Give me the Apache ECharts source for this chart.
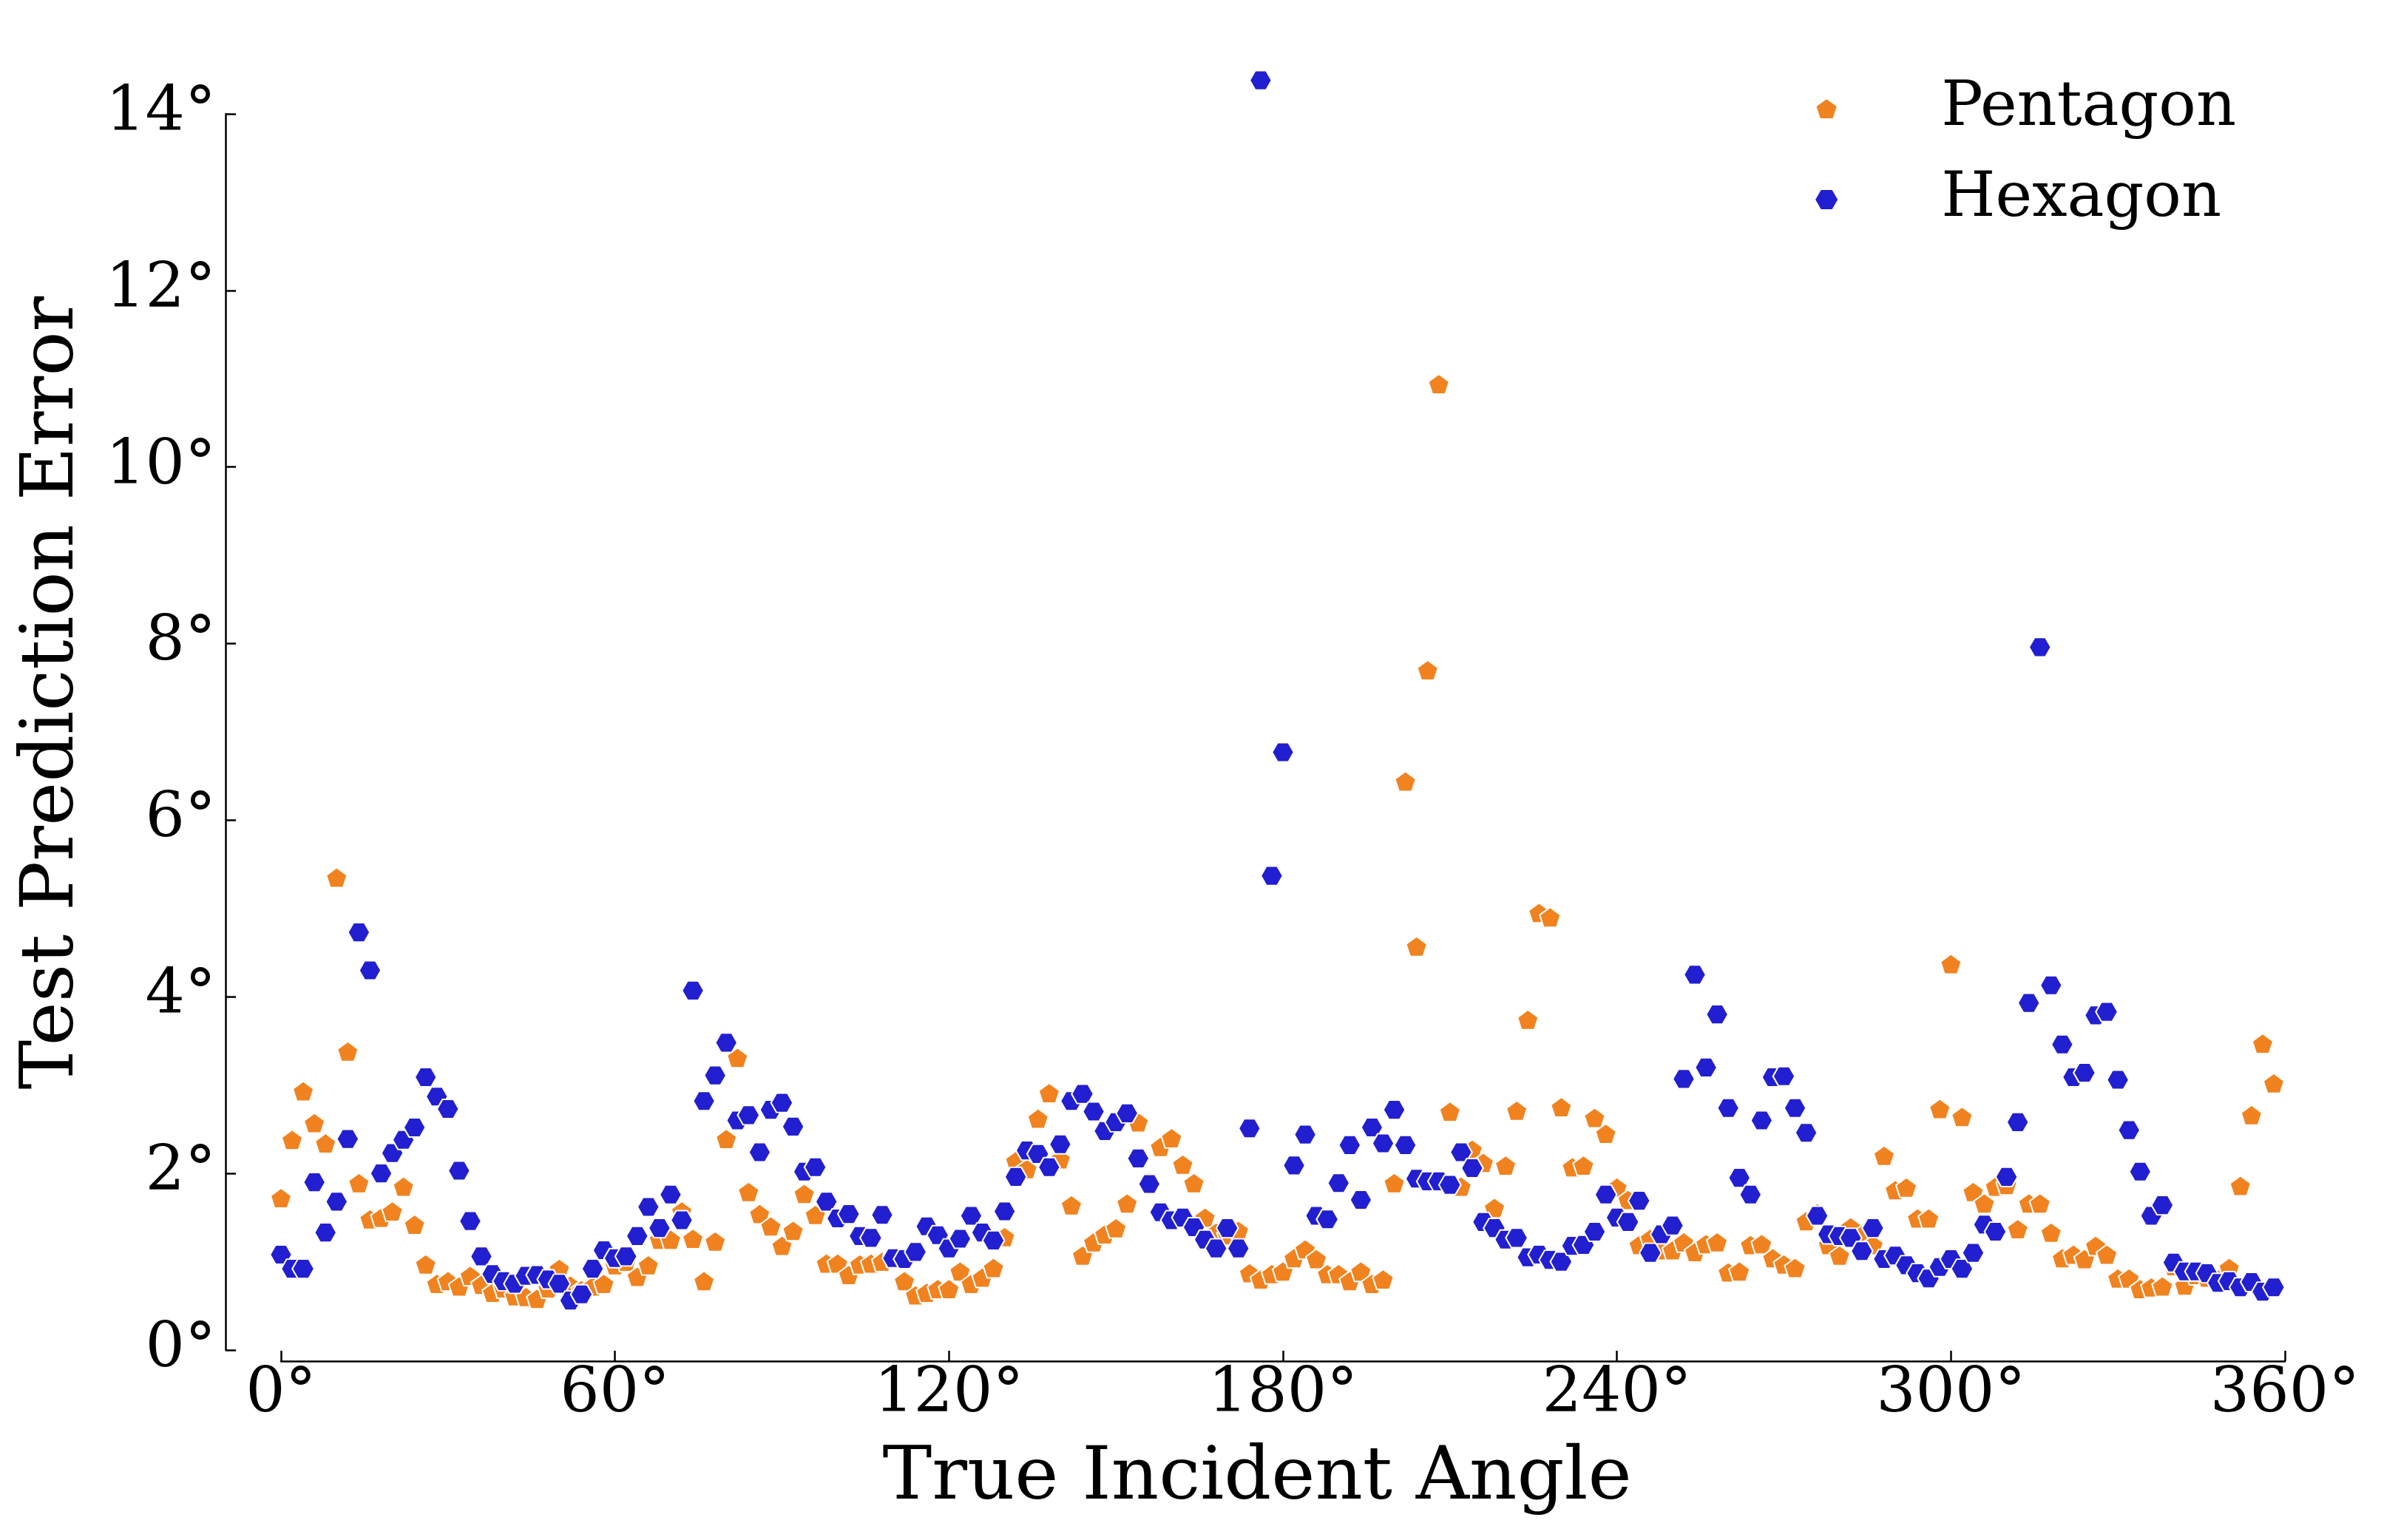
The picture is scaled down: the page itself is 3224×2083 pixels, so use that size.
<!DOCTYPE html>
<html><head><meta charset="utf-8">
<script src="https://cdn.jsdelivr.net/npm/echarts@6/dist/echarts.min.js"></script>
<style>html,body{margin:0;padding:0;background:#fff}#c{width:3224px;height:2083px}</style>
</head><body><div id="c"></div>
<script>
const angles = [0,2,4,6,8,10,12,14,16,18,20,22,24,26,28,30,32,34,36,38,40,42,44,46,48,50,52,54,56,58,
60,62,64,66,68,70,72,74,76,78,80,82,84,86,88,90,92,94,96,98,100,102,104,106,108,110,112,114,116,118,
120,122,124,126,128,130,132,134,136,138,140,142,144,146,148,150,152,154,156,158,160,162,164,166,168,170,172,174,176,178,
180,182,184,186,188,190,192,194,196,198,200,202,204,206,208,210,212,214,216,218,220,222,224,226,228,230,232,234,236,238,
240,242,244,246,248,250,252,254,256,258,260,262,264,266,268,270,272,274,276,278,280,282,284,286,288,290,292,294,296,298,
300,302,304,306,308,310,312,314,316,318,320,322,324,326,328,330,332,334,336,338,340,342,344,346,348,350,352,354,356,358];

const pentagon = [
1.72,2.38,2.93,2.57,2.34,5.35,3.38,1.89,1.48,1.50,
1.57,1.85,1.42,0.97,0.75,0.78,0.72,0.84,0.74,0.65,
0.70,0.61,0.60,0.58,0.70,0.92,0.73,0.68,0.72,0.75,
0.96,1.00,0.83,0.96,1.25,1.25,1.57,1.26,0.78,1.23,
2.39,3.31,1.79,1.54,1.40,1.18,1.35,1.77,1.53,0.98,
0.98,0.85,0.97,0.98,1.00,1.05,0.78,0.62,0.65,0.69,
0.69,0.89,0.75,0.82,0.93,1.28,2.14,2.05,2.62,2.91,
2.16,1.64,1.07,1.22,1.31,1.38,1.66,2.58,1.90,2.30,
2.40,2.10,1.89,1.50,1.33,1.30,1.35,0.87,0.80,0.86,
0.89,1.04,1.14,1.03,0.86,0.86,0.78,0.89,0.75,0.80,
1.89,6.44,4.57,7.70,10.94,2.70,1.85,2.27,2.12,1.61,
2.09,2.71,3.74,4.95,4.90,2.75,2.07,2.09,2.63,2.45,
1.84,1.70,1.19,1.26,1.13,1.13,1.22,1.11,1.20,1.22,
0.88,0.89,1.19,1.20,1.04,0.97,0.93,1.46,1.55,1.19,
1.07,1.39,1.30,1.19,2.20,1.81,1.84,1.49,1.49,2.73,
4.37,2.64,1.79,1.66,1.85,1.87,1.37,1.66,1.66,1.33,
1.04,1.08,1.03,1.18,1.08,0.81,0.81,0.69,0.71,0.72,
0.95,0.73,0.85,0.82,0.80,0.93,1.86,2.66,3.47,3.02];

const hexagon = [
1.08,0.92,0.92,1.90,1.33,1.68,2.39,4.73,4.30,2.00,
2.23,2.38,2.52,3.09,2.87,2.73,2.03,1.46,1.06,0.86,
0.78,0.75,0.84,0.85,0.80,0.75,0.56,0.63,0.92,1.13,
1.04,1.06,1.29,1.62,1.38,1.76,1.47,4.07,2.82,3.11,
3.48,2.60,2.66,2.24,2.72,2.80,2.53,2.02,2.07,1.68,
1.49,1.54,1.29,1.27,1.53,1.04,1.03,1.11,1.40,1.30,
1.15,1.26,1.52,1.33,1.24,1.57,1.96,2.26,2.22,2.07,
2.33,2.82,2.90,2.70,2.48,2.58,2.68,2.17,1.88,1.56,
1.47,1.50,1.39,1.25,1.15,1.38,1.15,2.51,14.38,5.37,
6.77,2.09,2.44,1.52,1.48,1.89,2.32,1.70,2.52,2.34,
2.72,2.32,1.94,1.91,1.91,1.87,2.24,2.06,1.45,1.38,
1.25,1.27,1.05,1.08,1.02,1.00,1.18,1.19,1.34,1.76,
1.50,1.45,1.69,1.10,1.31,1.41,3.07,4.25,3.20,3.80,
2.74,1.95,1.76,2.60,3.09,3.10,2.74,2.46,1.52,1.31,
1.29,1.27,1.12,1.38,1.03,1.07,0.96,0.87,0.81,0.94,
1.03,0.92,1.10,1.42,1.34,1.96,2.58,3.93,7.96,4.13,
3.46,3.09,3.14,3.79,3.83,3.06,2.49,2.02,1.52,1.64,
0.99,0.89,0.89,0.87,0.76,0.78,0.71,0.77,0.66,0.71];

const seriesNames = ['Pentagon', 'Hexagon'];
const xTitle = 'True Incident Angle';
const yTitle = 'Test Prediction Error';

const PENT = 'path://M0,-100L95.1,-30.9L58.8,80.9L-58.8,80.9L-95.1,-30.9Z';
const HEX = 'path://M100,0L50,86.6L-50,86.6L-100,0L-50,-86.6L50,-86.6Z';
const FONT = 'DejaVu Serif';
const deg = v => v + '°';

const chart = echarts.init(document.getElementById('c'), null, {renderer: 'canvas'});
chart.setOption({
  backgroundColor: '#ffffff',
  animation: false,
  grid: {left: 380, right: 134, top: 154, bottom: 257, containLabel: false},
  legend: {
    orient: 'vertical',
    left: 2448, top: 100,
    itemWidth: 300, itemHeight: 28,
    itemGap: 39,
    symbolKeepAspect: true,
    textStyle: {fontFamily: FONT, fontSize: 84, color: '#000'},
    data: seriesNames
  },
  xAxis: {
    type: 'value', min: 0, max: 360, interval: 60,
    offset: 15,
    axisLine: {show: true, onZero: false, lineStyle: {color: '#000', width: 2.5}},
    axisTick: {show: true, inside: true, length: 14, lineStyle: {color: '#000', width: 2.5}},
    splitLine: {show: false},
    axisLabel: {formatter: deg, fontFamily: FONT, fontSize: 84, color: '#000', margin: 4, showMinLabel: true, showMaxLabel: true},
    name: xTitle, nameLocation: 'middle', nameGap: 110,
    nameTextStyle: {fontFamily: FONT, fontSize: 100, color: '#000', padding: [0, 70, 0, 0]}
  },
  yAxis: {
    type: 'value', min: 0, max: 14, interval: 2,
    offset: 75,
    axisLine: {show: true, onZero: false, lineStyle: {color: '#000', width: 2.5}},
    axisTick: {show: true, inside: true, length: 14, lineStyle: {color: '#000', width: 2.5}},
    splitLine: {show: false},
    axisLabel: {formatter: deg, fontFamily: FONT, fontSize: 84, color: '#000', margin: 13, showMinLabel: true, showMaxLabel: true},
    name: yTitle, nameLocation: 'middle', nameGap: 183,
    nameTextStyle: {fontFamily: FONT, fontSize: 100, color: '#000', padding: [0, 0, 0, 106]}
  },
  series: [
    {
      name: seriesNames[0], type: 'scatter', clip: false,
      symbol: PENT, symbolSize: [28.3, 27],
      itemStyle: {color: '#F08320', borderColor: '#ffffff', borderWidth: 2, opacity: 1},
      data: angles.map((a, i) => [a, pentagon[i]])
    },
    {
      name: seriesNames[1], type: 'scatter', clip: false,
      symbol: HEX, symbolSize: [29.7, 26],
      itemStyle: {color: '#221FD0', borderColor: '#ffffff', borderWidth: 2, opacity: 1},
      data: angles.map((a, i) => [a, hexagon[i]])
    }
  ]
});
</script>
</body></html>
